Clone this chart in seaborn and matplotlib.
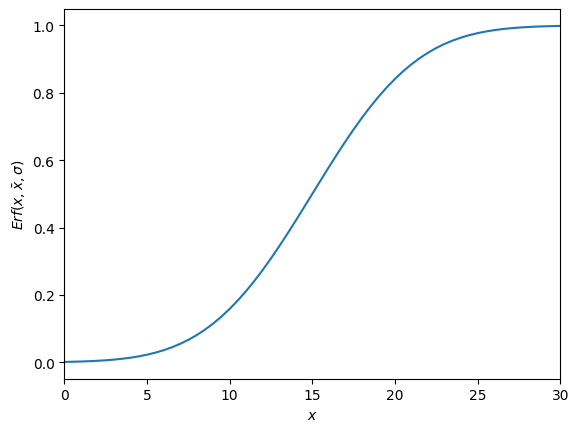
import numpy as np
import pandas as pd
import seaborn as sns
import matplotlib
matplotlib.use("Agg")
import matplotlib.pyplot as plt

# x positions (half steps) and the curve values
x_vals = [i * 0.5 for i in range(61)]
lower_half = [0.00135, 0.00187, 0.00256, 0.00347, 0.00466, 0.00621, 0.00820,
              0.01072, 0.01390, 0.01786, 0.02275, 0.02872, 0.03593, 0.04457,
              0.05480, 0.06681, 0.08076, 0.09680, 0.11507, 0.13567, 0.15866,
              0.18406, 0.21186, 0.24196, 0.27425, 0.30854, 0.34458, 0.38209,
              0.42074, 0.46017]
mid_value = [0.5]
upper_half = [0.53983, 0.57926, 0.61791, 0.65542, 0.69146, 0.72575, 0.75804,
              0.78814, 0.81594, 0.84134, 0.86433, 0.88493, 0.90320, 0.91924,
              0.93319, 0.94520, 0.95543, 0.96407, 0.97128, 0.97725, 0.98214,
              0.98610, 0.98928, 0.99180, 0.99379, 0.99534, 0.99653, 0.99744,
              0.99813, 0.99865]
erf_vals = lower_half + mid_value + upper_half

df = pd.DataFrame({"x": x_vals, "erf": erf_vals})

fig, ax = plt.subplots(figsize=(6.4, 4.8))
sns.lineplot(data=df, x="x", y="erf", ax=ax, color="#1f77b4")
ax.set_xlim(0, 30)
ax.set_xlabel(r"$x$")
ax.set_ylabel(r"$Erf(x, \bar{x}, \sigma)$")
fig.savefig("out.png", dpi=100, bbox_inches="tight")
